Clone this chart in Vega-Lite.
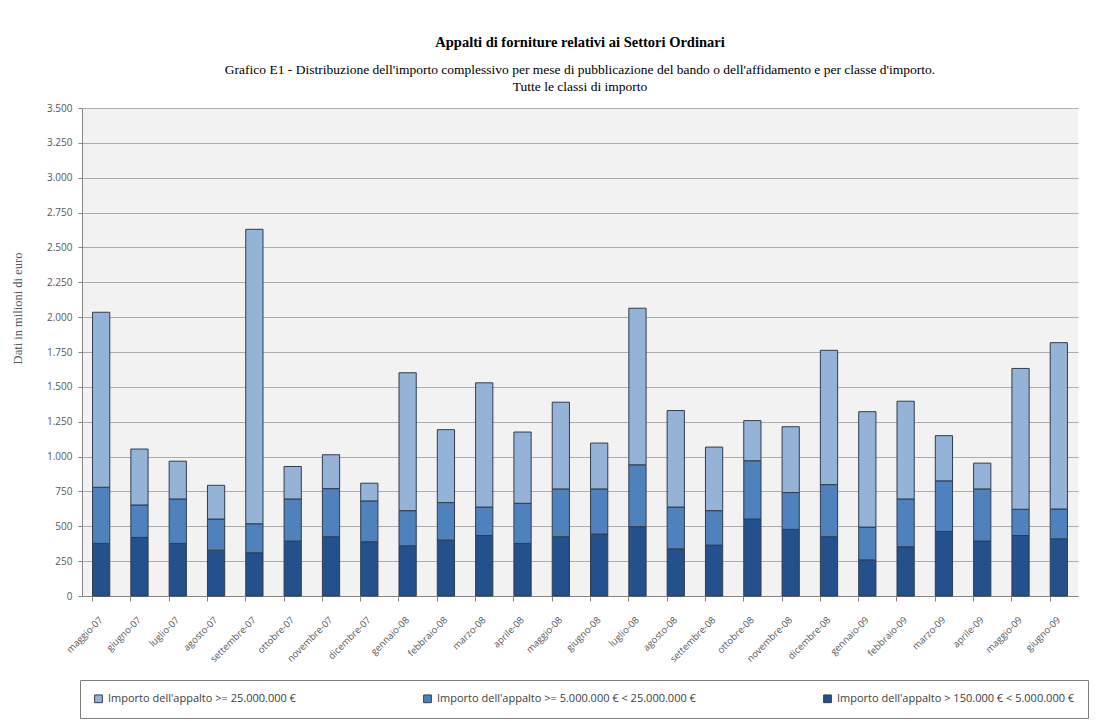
{
  "$schema": "https://vega.github.io/schema/vega-lite/v6.json",
  "width": 996,
  "height": 488,
  "autosize": "none",
  "padding": {"left": 82, "top": 108, "right": 36, "bottom": 132},
  "background": "white",
  "config": {
    "locale": {"number": {"decimal": ",", "thousands": ".", "grouping": [3], "currency": ["", " €"]}},
    "view": {"fill": "#f2f2f2", "stroke": null},
    "font": "Open Sans"
  },
  "title": {
    "text": "Appalti di forniture relativi ai Settori Ordinari",
    "subtitle": ["Grafico E1 - Distribuzione dell'importo complessivo per mese di pubblicazione del bando o dell'affidamento e per classe d'importo.", "Tutte le classi di importo"],
    "font": "Liberation Serif",
    "fontSize": 14.5,
    "fontWeight": "bold",
    "color": "#000000",
    "subtitleFont": "Liberation Serif",
    "subtitleFontSize": 13.5,
    "subtitleColor": "#000000",
    "subtitlePadding": 12,
    "subtitleLineHeight": 17,
    "anchor": "middle",
    "offset": 9
  },
  "datasets": {
    "classi": [
      {"chiave": "alto", "classe": "Importo dell'appalto >= 25.000.000 €", "ordine": 3},
      {"chiave": "medio", "classe": "Importo dell'appalto >= 5.000.000 € < 25.000.000 €", "ordine": 2},
      {"chiave": "basso", "classe": "Importo dell'appalto > 150.000 € < 5.000.000 €", "ordine": 1}
    ]
  },
  "data": {
    "values": [
      {"mese": "maggio-07", "basso": 377, "medio": 403, "alto": 1255},
      {"mese": "giugno-07", "basso": 420, "medio": 233, "alto": 401},
      {"mese": "luglio-07", "basso": 377, "medio": 319, "alto": 271},
      {"mese": "agosto-07", "basso": 329, "medio": 223, "alto": 242},
      {"mese": "settembre-07", "basso": 310, "medio": 208, "alto": 2112},
      {"mese": "ottobre-07", "basso": 394, "medio": 302, "alto": 233},
      {"mese": "novembre-07", "basso": 425, "medio": 345, "alto": 243},
      {"mese": "dicembre-07", "basso": 389, "medio": 293, "alto": 127},
      {"mese": "gennaio-08", "basso": 360, "medio": 252, "alto": 989},
      {"mese": "febbraio-08", "basso": 401, "medio": 269, "alto": 523},
      {"mese": "marzo-08", "basso": 434, "medio": 204, "alto": 891},
      {"mese": "aprile-08", "basso": 377, "medio": 288, "alto": 511},
      {"mese": "maggio-08", "basso": 425, "medio": 343, "alto": 622},
      {"mese": "giugno-08", "basso": 444, "medio": 324, "alto": 329},
      {"mese": "luglio-08", "basso": 497, "medio": 444, "alto": 1123},
      {"mese": "agosto-08", "basso": 338, "medio": 300, "alto": 692},
      {"mese": "settembre-08", "basso": 365, "medio": 247, "alto": 456},
      {"mese": "ottobre-08", "basso": 552, "medio": 418, "alto": 288},
      {"mese": "novembre-08", "basso": 478, "medio": 264, "alto": 472},
      {"mese": "dicembre-08", "basso": 425, "medio": 374, "alto": 963},
      {"mese": "gennaio-09", "basso": 259, "medio": 235, "alto": 828},
      {"mese": "febbraio-09", "basso": 353, "medio": 343, "alto": 701},
      {"mese": "marzo-09", "basso": 463, "medio": 363, "alto": 324},
      {"mese": "aprile-09", "basso": 394, "medio": 374, "alto": 185},
      {"mese": "maggio-09", "basso": 434, "medio": 188, "alto": 1010},
      {"mese": "giugno-09", "basso": 410, "medio": 214, "alto": 1193}
    ]
  },
  "transform": [
    {"fold": ["basso", "medio", "alto"], "as": ["chiave", "importo"]},
    {"lookup": "chiave", "from": {"data": {"name": "classi"}, "key": "chiave", "fields": ["classe", "ordine"]}}
  ],
  "layer": [
    {
      "mark": {"type": "bar", "stroke": "#2f3d4f", "strokeWidth": 1},
      "encoding": {
        "x": {
          "field": "mese", "type": "nominal", "sort": null,
          "scale": {"paddingInner": 0.55, "paddingOuter": 0.275},
          "axis": {
            "orient": "bottom",
            "title": null,
            "ticks": false,
            "domain": true,
            "domainColor": "#868686",
            "labelAngle": -45,
            "labelAlign": "right",
            "labelBaseline": "middle",
            "labelPadding": 22,
            "labelFontSize": 9.5,
            "labelColor": "#595959",
            "labelOverlap": false
          }
        },
        "y": {
          "field": "importo", "type": "quantitative", "stack": "zero",
          "scale": {"domain": [0, 3500], "nice": false},
          "axis": {
            "title": "Dati in milioni di euro",
            "values": [0, 250, 500, 750, 1000, 1250, 1500, 1750, 2000, 2250, 2500, 2750, 3000, 3250, 3500],
            "format": ",d",
            "labelFontSize": 10,
            "labelColor": "#595959",
            "labelPadding": 6,
            "tickSize": 4,
            "tickColor": "#868686",
            "domainColor": "#868686",
            "gridColor": "#adadad",
            "gridWidth": 1.2,
            "titleFont": "Liberation Serif",
            "titleFontSize": 12.5,
            "titleFontWeight": "normal",
            "titleColor": "#595959",
            "titleX": -58,
            "titleY": 200
          }
        },
        "color": {
          "field": "classe", "type": "nominal",
          "scale": {
            "domain": ["Importo dell'appalto >= 25.000.000 €", "Importo dell'appalto >= 5.000.000 € < 25.000.000 €", "Importo dell'appalto > 150.000 € < 5.000.000 €"],
            "range": ["#95b3d7", "#4f81bd", "#24508b"]
          },
          "legend": {
            "orient": "none",
            "legendX": -2,
            "legendY": 572,
            "direction": "horizontal",
            "columns": 3,
            "title": null,
            "strokeColor": "#7f7f7f",
            "padding": 13,
            "symbolType": "square",
            "symbolSize": 60,
            "symbolStrokeColor": "#2f3d4f",
            "symbolStrokeWidth": 1,
            "labelFontSize": 11,
            "labelColor": "#404040",
            "labelLimit": 500,
            "columnPadding": 125
          }
        },
        "order": {"field": "ordine", "type": "quantitative"}
      }
    },
    {
      "mark": {"type": "bar", "opacity": 0},
      "encoding": {
        "x": {
          "field": "mese", "type": "nominal", "sort": null,
          "axis": {
            "orient": "bottom",
            "title": null,
            "labels": false,
            "domain": false,
            "ticks": true,
            "tickSize": 5,
            "tickColor": "#868686",
            "bandPosition": 0
          }
        }
      }
    }
  ],
  "resolve": {"axis": {"x": "independent"}}
}
